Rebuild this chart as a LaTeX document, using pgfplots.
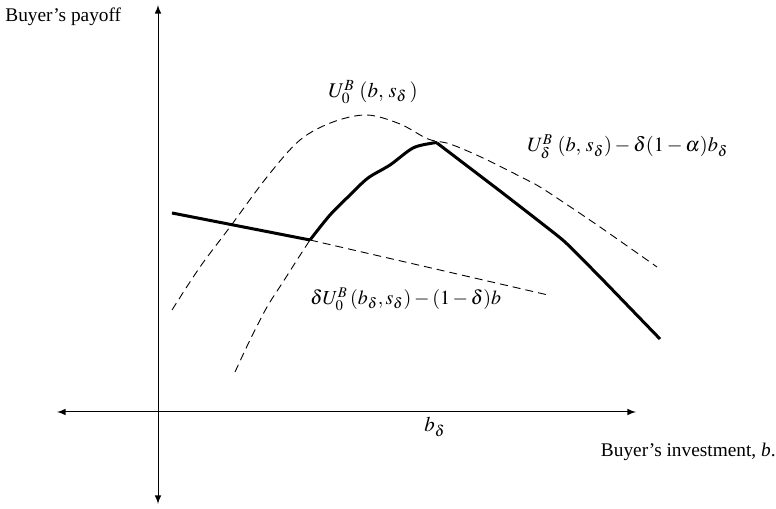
\documentclass[border=0pt]{standalone}
\usepackage{mathptmx}
\usepackage[no-math]{fontspec}
\setmainfont{Liberation Serif}
\usepackage{pgfplots}
\pgfplotsset{compat=1.18}

\begin{document}
\begin{tikzpicture}[font=\fontsize{9.7}{11}\selectfont]
\begin{axis}[
x=0.5bp, y=0.5bp,
axis lines=middle,
axis line style={latex-latex, line width=0.5bp},
xmin=-101, xmax=478,
ymin=-92, ymax=407,
xtick=\empty, ytick=\empty,
clip=false,
]
% upper dashed curve
\addplot[black, line width=0.45bp, dash pattern=on 4bp off 2.5bp, smooth, tension=0.55]
coordinates {(14,102) (42,145) (72,185) (109,235) (142,272) (175,290) (209,297)
(242,288) (270,273) (292,268) (325,254) (369,232) (382,225) (402,212) (442,185) (499,145)};
% lower dashed curve up to the kink
\addplot[black, line width=0.45bp, dash pattern=on 4bp off 2.5bp, smooth]
coordinates {(77,40) (92,72) (109,105) (125,130) (139,152) (152,172)};
% dashed straight line
\addplot[black, line width=0.45bp, dash pattern=on 4bp off 2.5bp]
coordinates {(152,172) (390,117)};
% buyer's payoff (solid)
\addplot[black, line width=1.5bp]
coordinates {(14,199) (152,172)};
\addplot[black, line width=1.5bp, smooth, tension=0.5]
coordinates {(152,172) (172,197) (192,217) (210,234) (232,247) (255,264) (275,269) (279,269)};
\addplot[black, line width=1.5bp, smooth, tension=0.3]
coordinates {(279,269) (342,221) (382,190) (407,170) (442,135) (472,104) (502,73)};

\node[anchor=west, inner sep=0pt] at (axis cs:-153,395) {Buyer’s payoff};
\node[anchor=east, inner sep=0pt] at (axis cs:618,-40) {Buyer’s investment, \textit{b}.};
\node[font=\fontsize{10.5}{12}\selectfont] at (axis cs:277,-15) {$b_{\delta}$};
\node[font=\fontsize{10.5}{12}\selectfont] at (axis cs:215,320) {$U_{0}^{B}\;(b,\, s_{\delta}\,)$};
\node[anchor=west, inner sep=0pt, font=\fontsize{10.2}{12}\selectfont] at (axis cs:369,265) {$U_{\delta}^{B}\;(b,\, s_{\delta}) - \delta(1-\alpha)b_{\delta}$};
\node[anchor=west, inner sep=0pt, font=\fontsize{10}{12}\selectfont] at (axis cs:152,113) {$\delta U_{0}^{B}\,(b_{\delta}, s_{\delta}) - (1-\delta)b$};

\coordinate (BL) at (axis cs:-158,-97);
\coordinate (TR) at (axis cs:618,412);
\end{axis}
\pgfresetboundingbox
\path (BL) rectangle (TR);
\end{tikzpicture}
\end{document}
